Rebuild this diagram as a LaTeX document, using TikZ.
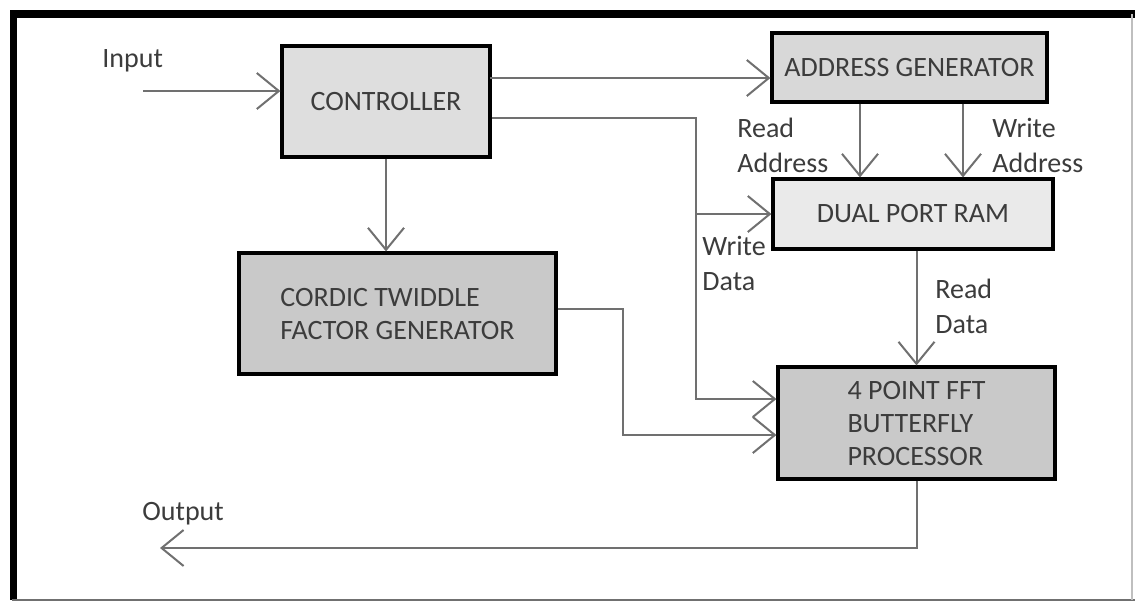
\documentclass[tikz,border=0pt]{standalone}
\usepackage{fontspec}
\setmainfont{Carlito}
\usetikzlibrary{arrows.meta}

\definecolor{fillctrl}{HTML}{DEDEDE}
\definecolor{filladdr}{HTML}{D8D8D8}
\definecolor{fillram}{HTML}{EAEAEA}
\definecolor{filldark}{HTML}{C9C9C9}
\definecolor{textgray}{HTML}{3C3C3C}
\definecolor{linegray}{HTML}{707070}

\tikzset{
  block/.style={draw=black, line width=1.6pt, text=textgray, align=left,
    font=\fontsize{14}{16.5}\selectfont, inner sep=0pt},
  arr/.style={draw=linegray, line width=1pt,
    -{Straight Barb[length=11pt,width=18pt,line width=1pt]}},
  lbl/.style={text=textgray, align=left, anchor=west, inner sep=0pt,
    font=\fontsize{14}{17.5}\selectfont},
}

\begin{document}
\begin{tikzpicture}[x=0.5pt,y=-0.5pt]
\useasboundingbox (0,0) rectangle (1135,602);

% frame
\draw[line width=4pt] (10,14)--(1135,14);
\draw[line width=3.5pt] (13.5,12)--(13.5,600);
\draw[linegray, line width=1pt] (12,600)--(1135,600);
\draw[black!25, line width=0.6pt] (1132,14)--(1132,600);

% blocks
\node[block, fill=fillctrl, minimum width=104pt, minimum height=55.5pt] (ctrl) at (386,101.5) {CONTROLLER};
\node[block, fill=filladdr, minimum width=137.5pt, minimum height=34.5pt] (addr) at (909.5,67.5) {ADDRESS GENERATOR};
\node[block, fill=fillram, minimum width=140pt, minimum height=35pt] (ram) at (913,214) {DUAL PORT RAM};
\node[block, fill=filldark, minimum width=158.5pt, minimum height=60.5pt] (cordic) at (397.5,313.5) {CORDIC TWIDDLE\\FACTOR GENERATOR};
\node[block, fill=filldark, minimum width=138.5pt, minimum height=56pt] (fft) at (916.5,423) {4 POINT FFT\\BUTTERFLY\\PROCESSOR};

% labels
\node[lbl] (inlbl) at (102,61) {Input};
\node[lbl] (outlbl) at (142,514) {Output};
\node[lbl] (rdaddr) at (737,145) {Read\\Address};
\node[lbl] (wraddr) at (992,145) {Write\\Address};
\node[lbl] (wrdata) at (702,263) {Write\\Data};
\node[lbl] (rddata) at (935,306) {Read\\Data};

% bends
\coordinate (in) at (143,91);
\coordinate (ca) at (490,78);
\coordinate (wd) at (696,118);
\coordinate (tw) at (623,309);
\coordinate (out) at (160,548);

% connectors
\draw[arr] (in) -- (in -| ctrl.west);
\draw[arr] (ca) -- (ca -| addr.west);
\draw[arr] (ctrl.east |- wd) -- (wd) |- (ram.west);
\draw[arr] (wd) |- ([yshift=12pt]fft.west);
\draw[arr] ([xshift=-24.75pt]addr.south) -- ([xshift=-24.75pt]addr.south |- ram.north);
\draw[arr] ([xshift=26.75pt]addr.south) -- ([xshift=26.75pt]addr.south |- ram.north);
\draw[arr] (fft.north |- ram.south) -- (fft.north);
\draw[arr] (ctrl.south) -- (ctrl.south |- cordic.north);
\draw[arr] (cordic.east |- tw) -- (tw) |- ([yshift=-6pt]fft.west);
\draw[arr] (fft.south) |- (out);
\end{tikzpicture}
\end{document}
